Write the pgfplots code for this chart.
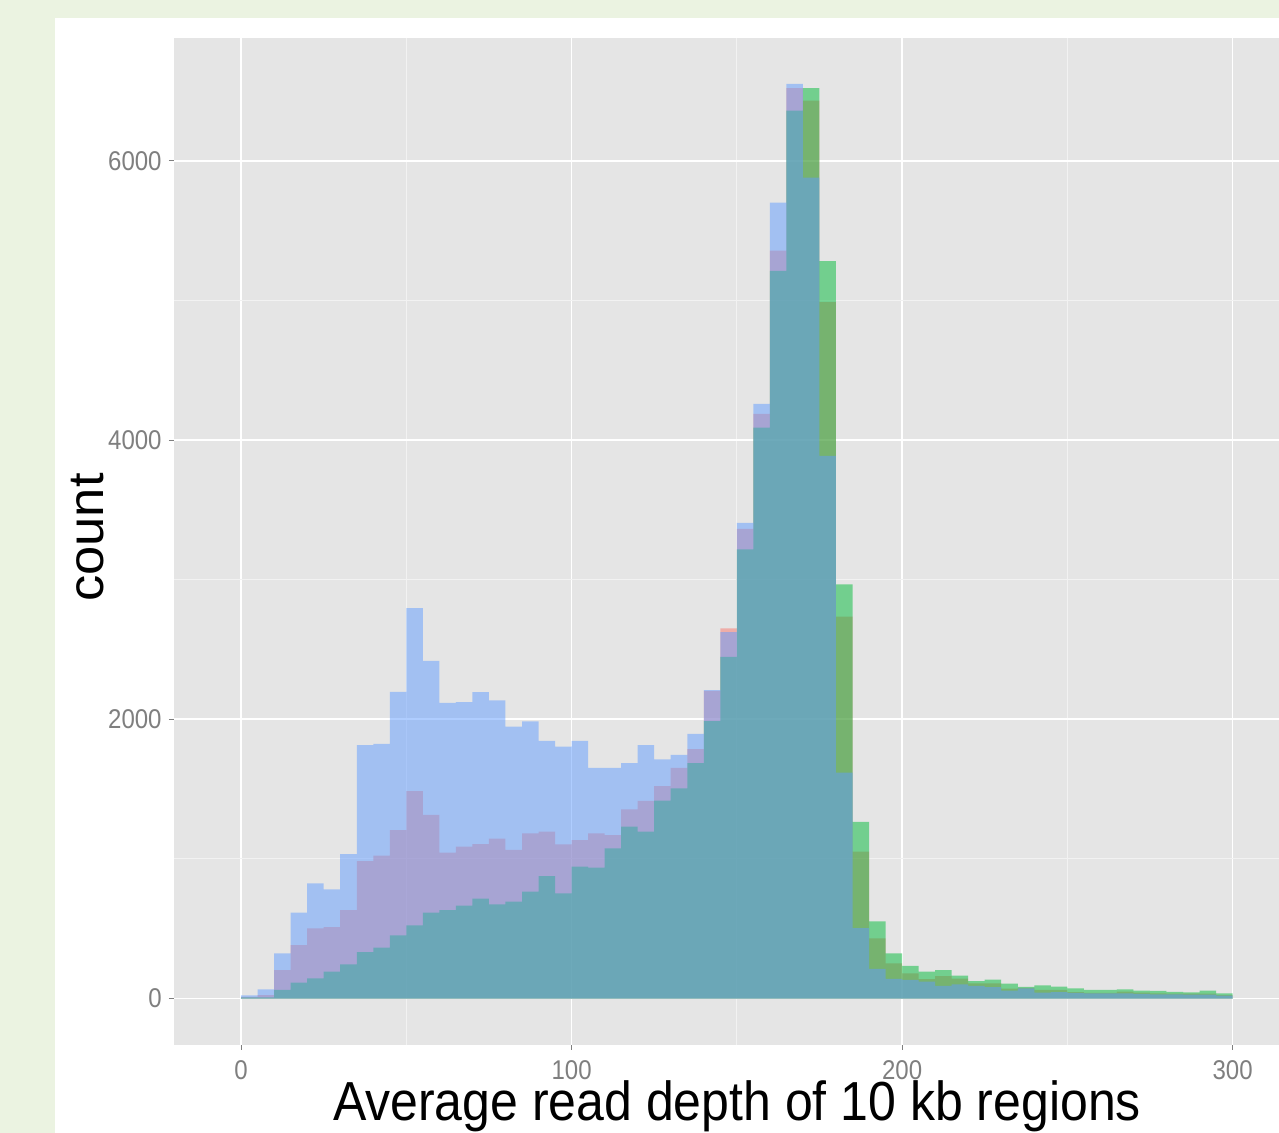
\documentclass[border=0pt]{standalone}
\usepackage{pgfplots}
\pgfplotsset{compat=1.18}
\usepackage{pgfplotstable}
\usepackage{graphicx}
\usepackage{fontspec}
\setmainfont{Liberation Sans}
\definecolor{outergreen}{HTML}{EBF3E1}
\definecolor{panelbg}{HTML}{E5E5E5}
\definecolor{minorgrid}{HTML}{F2F2F2}
\definecolor{tickgray}{HTML}{7F7F7F}
\definecolor{ggred}{HTML}{F8766D}
\definecolor{gggreen}{HTML}{00BA38}
\definecolor{ggblue}{HTML}{619CFF}

\pgfplotstableread{
x   B    R    G
0   22   12   8
5   66   25   8
10  324  204  61
15  615  383  113
20  825  503  145
25  782  512  192
30  1035 634  245
35  1816 985  333
40  1825 1023 364
45  2196 1207 453
50  2797 1486 524
55  2418 1315 615
60  2117 1045 634
65  2124 1088 665
70  2195 1106 715
75  2136 1145 675
80  1947 1064 694
85  1986 1183 765
90  1845 1195 877
95  1804 1105 754
100 1845 1135 944
105 1653 1183 937
110 1653 1171 1076
115 1687 1355 1231
120 1816 1415 1195
125 1713 1522 1417
130 1745 1653 1506
135 1895 1786 1686
140 2210 2203 1987
145 2624 2652 2447
150 3407 3364 3218
155 4259 4188 4090
160 5701 5358 5212
165 6552 6521 6361
170 5881 6432 6521
175 3888 4988 5282
180 1618 2736 2967
185 505  1053 1265
190 212  430  553
195 140  252  324
200 133  180  233
205 121  138  192
210 90   161  204
215 101  142  164
220 90   109  125
225 82   109  135
230 56   70   107
235 73   76   83
240 42   62   94
245 45   61   85
250 40   45   73
255 36   40   61
260 36   40   61
265 36   49   66
270 33   42   56
275 30   37   54
280 30   35   47
285 28   35   44
290 28   35   56
295 20   25   37
300 0    0    0
}\hist

\begin{document}
\begin{tikzpicture}
\useasboundingbox (0,0) rectangle (639.5pt,566.5pt);
\clip (0,0) rectangle (639.5pt,566.5pt);
\fill[outergreen] (0,0) rectangle (639.5pt,566.5pt);
\fill[white] (27.5pt,0) rectangle (639.5pt,557.5pt);
\begin{axis}[
  at={(87pt,44pt)}, anchor=south west, scale only axis,
  width=563pt, height=503.5pt,
  xmin=-20.3, xmax=320.4, ymin=-333, ymax=6881,
  axis background/.style={fill=panelbg},
  axis line style={draw=none},
  xtick={0,100,200,300},
  xticklabels={\scalebox{1}[1.13]{0},\scalebox{1}[1.13]{100},\scalebox{1}[1.13]{200},\scalebox{1}[1.13]{300}},
  ytick={0,2000,4000,6000},
  yticklabels={\scalebox{1}[1.13]{0},\scalebox{1}[1.13]{2000},\scalebox{1}[1.13]{4000},\scalebox{1}[1.13]{6000}},
  minor xtick={50,150,250}, minor ytick={1000,3000,5000},
  grid=both,
  major grid style={white, line width=0.85pt},
  minor grid style={minorgrid, line width=0.5pt},
  tick align=outside, xtick pos=bottom, ytick pos=left,
  major tick length=2.5pt, minor tick length=0pt,
  tick style={tickgray, line width=0.5pt},
  ticklabel style={font=\fontsize{12pt}{13pt}\selectfont, text=tickgray, inner sep=0pt},
  yticklabel style={anchor=east, xshift=-3.5pt},
  xticklabel style={anchor=north, yshift=-5pt},
  xlabel={\scalebox{1}[1.1]{Average read depth of 10 kb regions}},
  ylabel={\scalebox{1.05}[1]{count}},
  xlabel style={at={(rel axis cs:0.5,0)}, anchor=base, yshift=-38pt, inner sep=0pt, font=\fontsize{25pt}{30pt}\selectfont},
  ylabel style={at={(rel axis cs:0,0.5)}, anchor=south, yshift=35pt, xshift=2pt, inner sep=0pt, font=\fontsize{25pt}{30pt}\selectfont},
]
\addplot[ybar interval, fill=ggred, fill opacity=0.5, draw=none] table[x=x, y=R] {\hist};
\addplot[ybar interval, fill=gggreen, fill opacity=0.5, draw=none] table[x=x, y=G] {\hist};
\addplot[ybar interval, fill=ggblue, fill opacity=0.5, draw=none] table[x=x, y=B] {\hist};
\end{axis}
\end{tikzpicture}
\end{document}
